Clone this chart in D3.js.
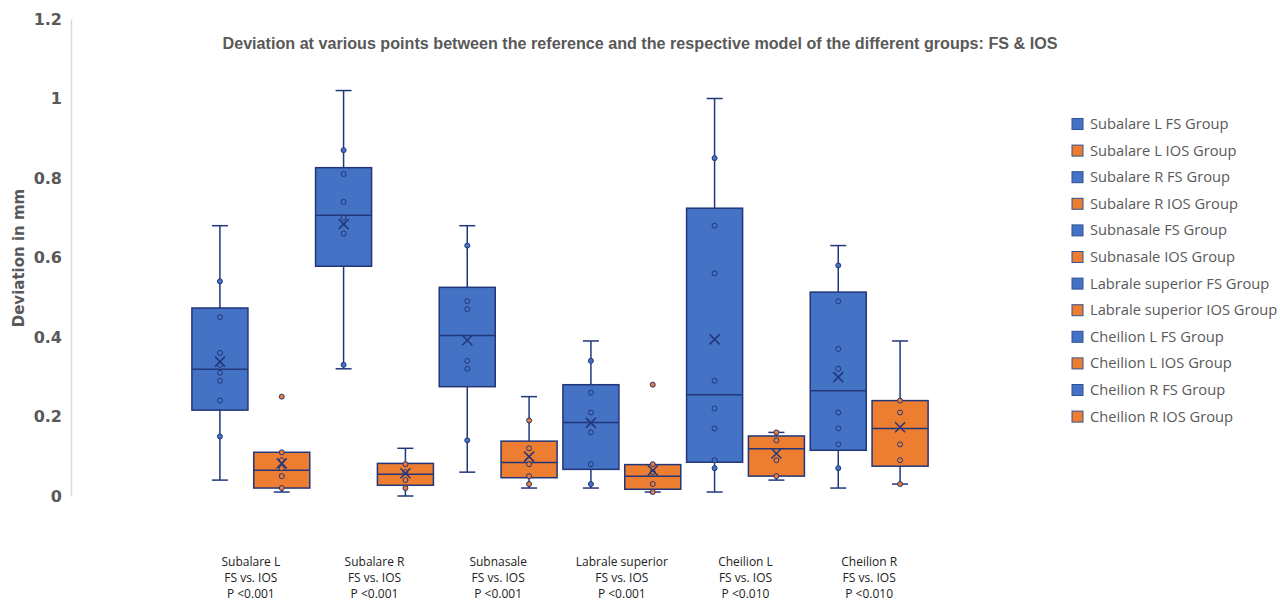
<!DOCTYPE html>
<html>
<head>
<meta charset="utf-8">
<script src="https://cdn.jsdelivr.net/npm/d3@7"></script>
<style>
  body { margin: 0; background: #fff; }
  svg { display: block; }
</style>
</head>
<body>
<div id="chart"></div>
<script>
// series, in the same order as the legend
var seriesNames = [
  "Subalare L FS Group", "Subalare L IOS Group",
  "Subalare R FS Group", "Subalare R IOS Group",
  "Subnasale FS Group", "Subnasale IOS Group",
  "Labrale superior FS Group", "Labrale superior IOS Group",
  "Cheilion L FS Group", "Cheilion L IOS Group",
  "Cheilion R FS Group", "Cheilion R IOS Group"
];
var groupOf = ["FS", "IOS", "FS", "IOS", "FS", "IOS", "FS", "IOS", "FS", "IOS", "FS", "IOS"];

var categories = ["Subalare L", "Subalare R", "Subnasale", "Labrale superior", "Cheilion L", "Cheilion R"];
var pValues = ["P <0.001", "P <0.001", "P <0.001", "P <0.001", "P <0.010", "P <0.010"];

// box statistics
var whiskerLow  = [0.04, 0.01, 0.32, 0.00, 0.06, 0.02, 0.02, 0.01, 0.01, 0.04, 0.02, 0.03];
var q1          = [0.216, 0.02, 0.578, 0.027, 0.275, 0.046, 0.067, 0.017, 0.085, 0.05, 0.115, 0.075];
var median      = [0.319, 0.065, 0.706, 0.055, 0.404, 0.084, 0.185, 0.05, 0.255, 0.119, 0.265, 0.17];
var q3          = [0.473, 0.11, 0.826, 0.082, 0.525, 0.138, 0.28, 0.079, 0.724, 0.151, 0.513, 0.24];
var whiskerHigh = [0.68, 0.11, 1.02, 0.12, 0.68, 0.25, 0.39, 0.079, 1.00, 0.16, 0.63, 0.39];
var means       = [0.338, 0.082, 0.684, 0.057, 0.392, 0.099, 0.184, 0.064, 0.394, 0.107, 0.299, 0.173];

// individual points (inner points and outliers)
var points = [
  [0.15, 0.24, 0.29, 0.31, 0.33, 0.36, 0.45, 0.54],
  [0.02, 0.05, 0.07, 0.09, 0.11, 0.25],
  [0.33, 0.66, 0.70, 0.74, 0.81, 0.87],
  [0.02, 0.04, 0.06, 0.08],
  [0.14, 0.32, 0.34, 0.47, 0.49, 0.63],
  [0.03, 0.05, 0.08, 0.12, 0.19],
  [0.03, 0.08, 0.16, 0.21, 0.26, 0.34],
  [0.01, 0.03, 0.06, 0.08, 0.28],
  [0.07, 0.09, 0.17, 0.22, 0.29, 0.56, 0.68, 0.85],
  [0.05, 0.09, 0.14, 0.16],
  [0.07, 0.13, 0.17, 0.21, 0.32, 0.37, 0.49, 0.58],
  [0.03, 0.09, 0.13, 0.21, 0.24]
];

var yTicks = [0, 0.2, 0.4, 0.6, 0.8, 1, 1.2];

var width = 1280, height = 602;
var colors = { FS: "#4472C4", IOS: "#ED7D31" };
var navy = "#22367A";

var svg = d3.select("#chart").append("svg")
  .attr("width", width)
  .attr("height", height);

var y = d3.scaleLinear().domain([0, 1.2]).range([496, 19]);

var x = d3.scaleBand()
  .domain(seriesNames)
  .range([189, 931])
  .paddingInner(0.094)
  .paddingOuter(0.047);

var catX = d3.scaleBand().domain(categories).range([189, 931]);

// title
svg.append("text")
  .attr("x", 640)
  .attr("y", 49)
  .attr("text-anchor", "middle")
  .attr("textLength", 835)
  .attr("lengthAdjust", "spacingAndGlyphs")
  .style("font-family", "'Liberation Sans Narrow', 'Liberation Sans', Arial")
  .style("font-weight", "bold")
  .style("font-size", "16px")
  .style("fill", "#595959")
  .text("Deviation at various points between the reference and the respective model of the different groups: FS & IOS");

// y axis
var yAxis = svg.append("g")
  .attr("transform", "translate(71,0)")
  .call(d3.axisLeft(y).tickValues(yTicks).tickSize(0).tickPadding(9).tickFormat(d3.format("~g")));
yAxis.select(".domain").attr("stroke", "#d9d9d9").attr("stroke-width", 1.5);
yAxis.selectAll("text")
  .style("font-family", "'DejaVu Sans', Verdana, sans-serif")
  .style("font-weight", "bold")
  .style("font-size", "16px")
  .style("fill", "#595959");

svg.append("text")
  .attr("transform", "translate(24,258) rotate(-90)")
  .attr("text-anchor", "middle")
  .style("font-family", "'DejaVu Sans', Verdana, sans-serif")
  .style("font-weight", "bold")
  .style("font-size", "15px")
  .style("fill", "#595959")
  .text("Deviation in mm");

// boxes
var idx = d3.range(seriesNames.length);
var boxes = svg.selectAll(".box")
  .data(idx)
  .enter()
  .append("g")
  .attr("class", "box");

var cx = function (i) { return x(seriesNames[i]) + x.bandwidth() / 2; };
var capW = 8;

// whiskers
boxes.append("line")
  .attr("x1", cx).attr("x2", cx)
  .attr("y1", function (i) { return y(whiskerHigh[i]); })
  .attr("y2", function (i) { return y(q3[i]); })
  .attr("stroke", navy).attr("stroke-width", 1.5);
boxes.append("line")
  .attr("x1", cx).attr("x2", cx)
  .attr("y1", function (i) { return y(q1[i]); })
  .attr("y2", function (i) { return y(whiskerLow[i]); })
  .attr("stroke", navy).attr("stroke-width", 1.5);
boxes.filter(function (i) { return whiskerHigh[i] > q3[i]; })
  .append("line")
  .attr("x1", function (i) { return cx(i) - capW; })
  .attr("x2", function (i) { return cx(i) + capW; })
  .attr("y1", function (i) { return y(whiskerHigh[i]); })
  .attr("y2", function (i) { return y(whiskerHigh[i]); })
  .attr("stroke", navy).attr("stroke-width", 1.5);
boxes.filter(function (i) { return whiskerLow[i] < q1[i]; })
  .append("line")
  .attr("x1", function (i) { return cx(i) - capW; })
  .attr("x2", function (i) { return cx(i) + capW; })
  .attr("y1", function (i) { return y(whiskerLow[i]); })
  .attr("y2", function (i) { return y(whiskerLow[i]); })
  .attr("stroke", navy).attr("stroke-width", 1.5);

boxes.append("rect")
  .attr("x", function (i) { return x(seriesNames[i]); })
  .attr("y", function (i) { return y(q3[i]); })
  .attr("width", x.bandwidth())
  .attr("height", function (i) { return y(q1[i]) - y(q3[i]); })
  .attr("fill", function (i) { return colors[groupOf[i]]; })
  .attr("stroke", navy)
  .attr("stroke-width", 1.5);

boxes.append("line")
  .attr("x1", function (i) { return x(seriesNames[i]); })
  .attr("x2", function (i) { return x(seriesNames[i]) + x.bandwidth(); })
  .attr("y1", function (i) { return y(median[i]); })
  .attr("y2", function (i) { return y(median[i]); })
  .attr("stroke", navy).attr("stroke-width", 1.5);

// points
boxes.each(function (i) {
  d3.select(this).selectAll("circle")
    .data(points[i])
    .enter()
    .append("circle")
    .attr("cx", cx(i))
    .attr("cy", function (v) { return y(v); })
    .attr("r", 2.5)
    .attr("fill", colors[groupOf[i]])
    .attr("stroke", navy)
    .attr("stroke-width", 1);
});

// mean markers
var m = 5;
boxes.append("path")
  .attr("d", function (i) {
    var px = cx(i), py = y(means[i]);
    return "M" + (px - m) + "," + (py - m) + "L" + (px + m) + "," + (py + m) +
      "M" + (px - m) + "," + (py + m) + "L" + (px + m) + "," + (py - m);
  })
  .attr("stroke", navy)
  .attr("stroke-width", 1.5)
  .attr("fill", "none");

// category labels under the chart
var labels = svg.selectAll(".cat-label")
  .data(categories)
  .enter()
  .append("text")
  .attr("class", "cat-label")
  .attr("text-anchor", "middle")
  .style("font-family", "'Liberation Sans Narrow', 'Open Sans', sans-serif")
  .style("font-size", "12px")
  .style("fill", "#222");
labels.each(function (d, i) {
  var t = d3.select(this);
  var lx = catX(d) + catX.bandwidth() / 2;
  [d, "FS vs. IOS", pValues[i]].forEach(function (line, k) {
    t.append("tspan").attr("x", lx).attr("y", 566 + k * 16).text(line);
  });
});

// legend
var legend = svg.selectAll(".legend")
  .data(idx)
  .enter()
  .append("g")
  .attr("class", "legend")
  .attr("transform", function (i) { return "translate(1072," + (124 + i * 26.6) + ")"; });
legend.append("rect")
  .attr("x", 0).attr("y", -5.5)
  .attr("width", 11).attr("height", 11)
  .attr("fill", function (i) { return colors[groupOf[i]]; })
  .attr("stroke", "#2F528F")
  .attr("stroke-width", 1);
legend.append("text")
  .attr("x", 18)
  .attr("y", 5)
  .style("font-family", "'Open Sans', sans-serif")
  .style("font-size", "14.7px")
  .style("fill", "#595959")
  .text(function (i) { return seriesNames[i]; });
</script>
</body>
</html>
